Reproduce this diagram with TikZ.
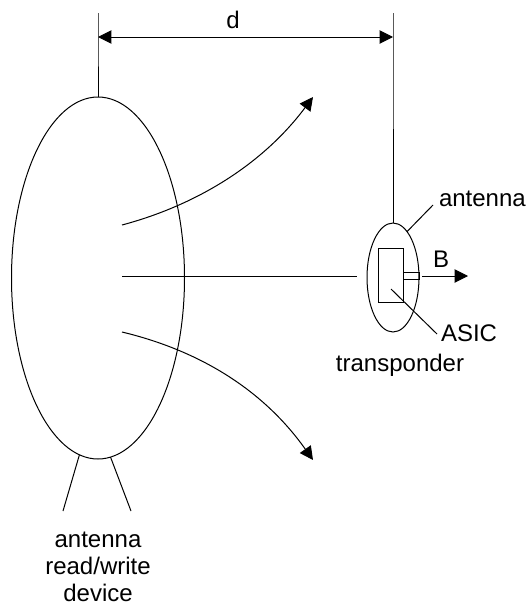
\documentclass[tikz,border=0pt]{standalone}
\usepackage{fontspec}
\setmainfont{Liberation Sans}
\usepackage{tikz}
\usetikzlibrary{arrows.meta}
\usetikzlibrary{shapes.geometric}
\tikzset{
	ell/.style={draw, ellipse, inner sep=0pt, outer sep=0pt},
	lbl/.style={font=\fontsize{18pt}{20.25pt}\selectfont, inner sep=0pt, outer sep=0pt, align=center},
	tip/.style={-{Triangle[length=10pt,width=10pt]}},
}
\begin{document}
\begin{tikzpicture}[x=0.75pt, y=-0.75pt, line width=0.75pt]
\useasboundingbox (0,0) rectangle (528,603);
% antennas and chip
\node[ell, minimum width=129.75pt, minimum height=271.5pt] (reader) at (98,278) {};
\node[ell, minimum width=39pt, minimum height=81.75pt] (tag) at (393,277.5) {};
\node[draw, inner sep=0pt, outer sep=0pt, minimum width=18.75pt, minimum height=40.5pt] (chip) at (390.5,275) {};
\node[draw, inner sep=0pt, outer sep=0pt, minimum width=12pt, minimum height=4.9pt] (stub) at (411,275.75) {};
% labels
\node[lbl] (d) at (233,20) {d};
\node[lbl, anchor=west] (antenna) at (439,199) {antenna};
\node[lbl, anchor=west] (B) at (433,259) {B};
\node[lbl, anchor=west] (ASIC) at (441,333) {ASIC};
\node[lbl] (transponder) at (400,365) {transponder};
\node[lbl, text depth=0pt, anchor=south] (device) at (98,601.5) {antenna\\read/write\\device};
% free ends
\coordinate (dl) at (98,13);
\coordinate (dr) at (393,13);
\coordinate (al) at (98,37);
\coordinate (ar) at (393,37);
\coordinate (f1) at (122,225);
\coordinate (f2) at (122,276);
\coordinate (f3) at (122,332);
\coordinate (t1) at (313,97);
\coordinate (t2) at (357,276);
\coordinate (t3) at (313,460);
\coordinate (b1) at (422,276);
\coordinate (b2) at (468,276);
\coordinate (p1) at (391,289);
\coordinate (p2) at (437,334);
\coordinate (p3) at (433,205);
\coordinate (l1) at (63,511);
\coordinate (l2) at (131,511);
% connectors
\draw (dl) -- (al) -- (reader.north);
\draw (dr) -- (ar) -- (tag.north);
\draw[{Triangle[length=10pt,width=10pt]}-{Triangle[length=10pt,width=10pt]}] (al) -- (ar);
\draw[tip] (f1) .. controls (197,205) and (263,164) .. (t1);
\draw (f2) -- (t2);
\draw[tip] (f3) .. controls (197,350) and (262,388) .. (t3);
\draw[tip] (b1) -- (b2);
\draw (p1) -- (p2);
\draw (tag.73) -- (p3);
\draw (reader.264.7) -- (l1);
\draw (reader.274.7) -- (l2);
\end{tikzpicture}
\end{document}
